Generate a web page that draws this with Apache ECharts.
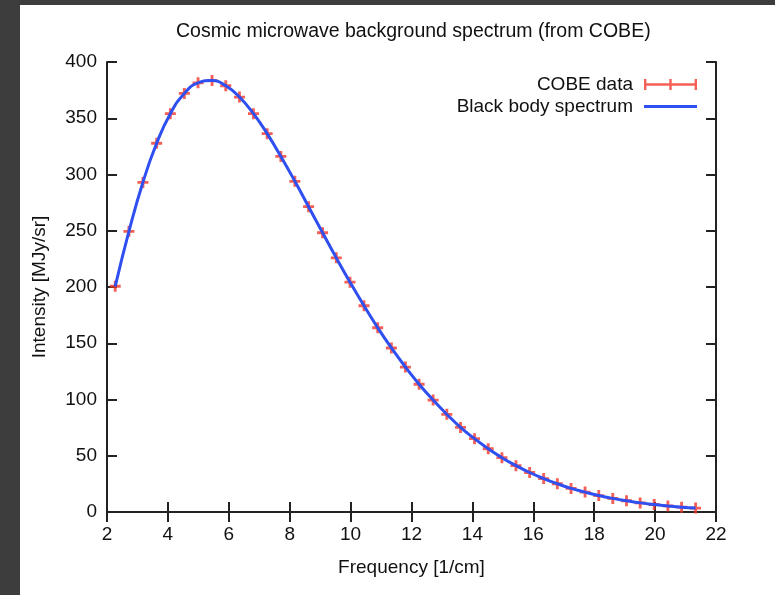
<!DOCTYPE html>
<html>
<head>
<meta charset="utf-8">
<script src="https://cdn.jsdelivr.net/npm/echarts@6/dist/echarts.min.js"></script>
<style>
  html, body { margin: 0; padding: 0; background: #3d3d3d; }
  #chart { position: absolute; left: 20px; top: 5px; width: 755px; height: 590px; background: #ffffff; }
</style>
</head>
<body>
<div id="chart"></div>
<script>
// FIRAS monopole spectrum: frequency [1/cm] and intensity [MJy/sr]
const frequency = [
  2.27, 2.72, 3.18, 3.63, 4.08, 4.54, 4.99, 5.45, 5.90, 6.35,
  6.81, 7.26, 7.71, 8.17, 8.62, 9.08, 9.53, 9.98, 10.44, 10.89,
  11.34, 11.80, 12.25, 12.71, 13.16, 13.61, 14.07, 14.52, 14.97, 15.43,
  15.88, 16.34, 16.79, 17.24, 17.70, 18.15, 18.61, 19.06, 19.51, 19.97,
  20.42, 20.87, 21.33
];
const cobeIntensity = [
  200.7, 249.5, 293.0, 327.8, 354.1, 372.1, 381.5, 383.5, 378.9, 368.8,
  354.1, 336.3, 316.1, 293.9, 271.4, 248.2, 225.9, 204.3, 183.3, 163.8,
  145.8, 128.8, 113.6, 99.5, 86.8, 75.2, 65.2, 56.2, 48.3, 41.2,
  35.1, 29.7, 25.1, 21.0, 17.7, 14.6, 12.1, 10.0, 8.1, 6.7,
  5.4, 4.3, 3.5
];
// Planck curve for T = 2.725 K at the same frequencies
const blackBody = [
  200.6, 249.4, 293.1, 327.8, 354.0, 372.0, 381.5, 383.5, 378.9, 368.9,
  354.1, 336.3, 316.0, 294.0, 271.4, 248.3, 225.9, 204.3, 183.3, 163.8,
  145.8, 128.9, 113.6, 99.5, 86.9, 75.2, 65.2, 56.2, 48.3, 41.2,
  35.1, 29.7, 25.1, 21.0, 17.7, 14.6, 12.1, 10.0, 8.1, 6.7,
  5.4, 4.3, 3.5
];
const xTicks = { min: 2, max: 22, step: 2 };
const yTicks = { min: 0, max: 400, step: 50 };

const seriesNames = ['COBE data', 'Black body spectrum'];
const titleText = 'Cosmic microwave background spectrum (from COBE)';
const xName = 'Frequency [1/cm]';
const yName = 'Intensity [MJy/sr]';

const RED = '#f2382c';
const BLUE = '#2f4ff0';
const INK = '#222222';
const FONT = '"Liberation Sans", Arial, Helvetica, sans-serif';
const FS = 19;

const plusPath = 'path://M3.7,0 H6.3 V3.7 H10 V6.3 H6.3 V10 H3.7 V6.3 H0 V3.7 H3.7 Z';
const errKeyPath = 'path://M0,0 H2.4 V4.3 H25.3 V0 H27.7 V4.3 H50.6 V0 H53 V11 H50.6 V6.7 H27.7 V11 H25.3 V6.7 H2.4 V11 H0 Z';
const lineKeyPath = 'path://M0,0 H53 V2.8 H0 Z';

const axisLine = { show: true, lineStyle: { color: INK, width: 2 } };
const tickIn = { show: true, inside: true, length: 10, lineStyle: { color: INK, width: 2 } };
const labelStyle = { color: '#111', fontFamily: FONT, fontSize: FS };

function xAxisDef(pos, withLabels) {
  return {
    type: 'value', position: pos, gridIndex: 0,
    min: xTicks.min, max: xTicks.max, interval: xTicks.step,
    axisLine: axisLine, axisTick: tickIn, splitLine: { show: false },
    axisLabel: withLabels ? Object.assign({ margin: 13 }, labelStyle) : { show: false },
    name: withLabels ? xName : '', nameLocation: 'middle', nameGap: 46,
    nameTextStyle: labelStyle
  };
}
function yAxisDef(pos, withLabels) {
  return {
    type: 'value', position: pos, gridIndex: 0,
    min: yTicks.min, max: yTicks.max, interval: yTicks.step,
    axisLine: axisLine, axisTick: tickIn, splitLine: { show: false },
    axisLabel: withLabels ? Object.assign({ margin: 10 }, labelStyle) : { show: false },
    name: withLabels ? yName : '', nameLocation: 'middle', nameGap: 58,
    nameTextStyle: labelStyle
  };
}

const chart = echarts.init(document.getElementById('chart'), null, { renderer: 'canvas' });
chart.setOption({
  animation: false,
  backgroundColor: '#ffffff',
  title: {
    text: titleText, left: 151, top: 12,
    textStyle: { color: '#111', fontFamily: FONT, fontSize: 19.5, fontWeight: 'normal' }
  },
  grid: { left: 87, right: 59, top: 57, bottom: 83 },
  legend: {
    orient: 'vertical', right: 73, top: 65, align: 'right',
    itemWidth: 53, itemHeight: 11, itemGap: 3,
    textStyle: { color: '#111', fontFamily: FONT, fontSize: FS, padding: [0, 6, 0, 0] },
    data: [
      { name: seriesNames[0], icon: errKeyPath, itemStyle: { color: RED } },
      { name: seriesNames[1], icon: lineKeyPath, itemStyle: { color: BLUE } }
    ]
  },
  xAxis: [xAxisDef('bottom', true), xAxisDef('top', false)],
  yAxis: [yAxisDef('left', true), yAxisDef('right', false)],
  series: [
    {
      name: seriesNames[0], type: 'scatter', xAxisIndex: 0, yAxisIndex: 0,
      symbol: plusPath, symbolSize: 11,
      itemStyle: { color: RED },
      data: frequency.map((f, i) => [f, cobeIntensity[i]]), z: 2
    },
    {
      name: seriesNames[1], type: 'line', xAxisIndex: 0, yAxisIndex: 0,
      smooth: true, showSymbol: false, symbol: 'none',
      lineStyle: { color: BLUE, width: 3 },
      itemStyle: { color: BLUE },
      data: frequency.map((f, i) => [f, blackBody[i]]), z: 3
    }
  ]
});
</script>
</body>
</html>
